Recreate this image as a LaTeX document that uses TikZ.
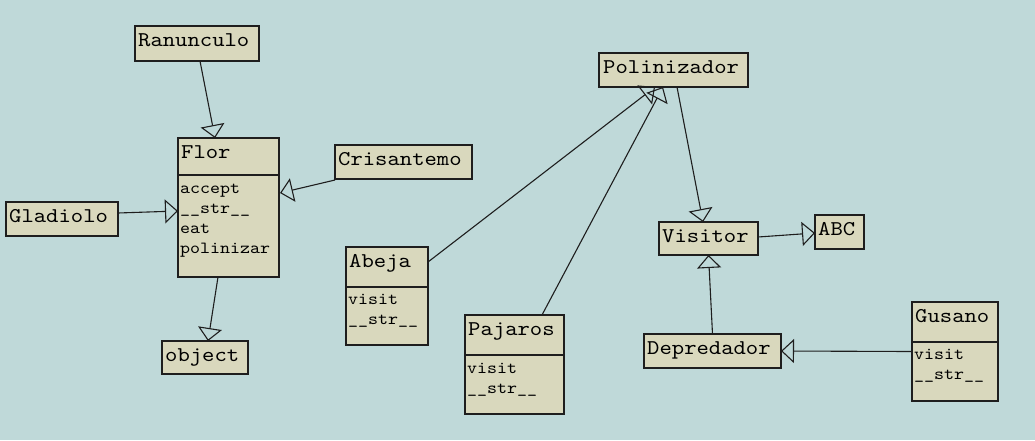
\documentclass[tikz,border=0pt]{standalone}
\usepackage{fontspec}
\usetikzlibrary{arrows.meta}
\newfontfamily\monof{lmmono10-regular.otf}[FakeStretch=1.12]
\newcommand\ttlf{\monof\fontsize{21}{24}\selectfont}
\newcommand\mthf{\monof\fontsize{17}{20}\selectfont}
\definecolor{bgc}{RGB}{191,217,217}
\definecolor{boxc}{RGB}{217,216,189}
\definecolor{linec}{RGB}{30,30,30}
\tikzset{
  umlbox/.style={draw=linec, fill=boxc, line width=1.2pt, anchor=north west, inner sep=0pt, outer sep=0pt},
  ttl/.style={font=\ttlf, anchor=base west, inner sep=0pt, text=black},
  mth/.style={font=\mthf, anchor=base west, inner sep=0pt, text=black},
  divl/.style={draw=linec, line width=1.2pt},
  gen/.style={draw=linec, line width=1.1pt, -{Triangle[open,length=13pt,width=24pt,line width=1.1pt]}}
}
\begin{document}
\begin{tikzpicture}[x=1pt,y=-1pt]
\fill[bgc] (0,0) rectangle (1035,440);
\useasboundingbox (0,0) rectangle (1035,440);

% Ranunculo
\node[umlbox, minimum width=124pt, minimum height=35pt] (ran) at (135,26) {};
\node[ttl] (ran-t) at (138,46.5) {Ranunculo};
% Flor
\node[umlbox, minimum width=101pt, minimum height=139pt] (flor) at (178,138) {};
\node[ttl] (flor-t) at (181,158) {Flor};
\draw[divl] (178,175) -- (279,175);
\node[mth] (flor-m1) at (180,193) {accept};
\node[mth] (flor-m2) at (180,213) {\_\_str\_\_};
\node[mth] (flor-m3) at (180,233) {eat};
\node[mth] (flor-m4) at (180,253) {polinizar};
% Crisantemo
\node[umlbox, minimum width=137pt, minimum height=34pt] (cris) at (335,145) {};
\node[ttl] (cris-t) at (338,165.5) {Crisantemo};
% Gladiolo
\node[umlbox, minimum width=112pt, minimum height=34pt] (glad) at (6,202) {};
\node[ttl] (glad-t) at (9,222.5) {Gladiolo};
% object
\node[umlbox, minimum width=86pt, minimum height=33pt] (obj) at (162,341) {};
\node[ttl] (obj-t) at (165,361) {object};
% Abeja
\node[umlbox, minimum width=82pt, minimum height=98pt] (abeja) at (346,247) {};
\node[ttl] (abeja-t) at (349,267) {Abeja};
\draw[divl] (346,287) -- (428,287);
\node[mth] (abeja-m1) at (348,304) {visit};
\node[mth] (abeja-m2) at (348,324) {\_\_str\_\_};
% Pajaros
\node[umlbox, minimum width=99pt, minimum height=99pt] (paj) at (465,315) {};
\node[ttl] (paj-t) at (468,335) {Pajaros};
\draw[divl] (465,355) -- (564,355);
\node[mth] (paj-m1) at (467,373) {visit};
\node[mth] (paj-m2) at (467,393) {\_\_str\_\_};
% Polinizador
\node[umlbox, minimum width=149pt, minimum height=34pt] (pol) at (599,53) {};
\node[ttl] (pol-t) at (603,73.5) {Polinizador};
% Visitor
\node[umlbox, minimum width=99pt, minimum height=33pt] (vis) at (659,222) {};
\node[ttl] (vis-t) at (662,242) {Visitor};
% ABC
\node[umlbox, minimum width=49pt, minimum height=34pt] (abc) at (815,215) {};
\node[ttl] (abc-t) at (818,235) {ABC};
% Depredador
\node[umlbox, minimum width=137pt, minimum height=34pt] (dep) at (644,334) {};
\node[ttl] (dep-t) at (647,354.5) {Depredador};
% Gusano
\node[umlbox, minimum width=86pt, minimum height=99pt] (gus) at (912,302) {};
\node[ttl] (gus-t) at (915,322) {Gusano};
\draw[divl] (912,342) -- (998,342);
\node[mth] (gus-m1) at (914,359) {visit};
\node[mth] (gus-m2) at (914,379) {\_\_str\_\_};

% connectors
\draw[gen] ([xshift=3pt]ran.south) -- ([xshift=-13.5pt]flor.north);
\draw[gen] ([yshift=6pt]glad.east) -- ([yshift=-3.5pt]flor.west);
\draw[gen] ([yshift=-1pt]cris.south west) -- ([xshift=1pt,yshift=14.5pt]flor.east);
\draw[gen] ([xshift=-10.5pt]flor.south) -- ([xshift=3pt]obj.north);
\draw[gen] ([yshift=-15pt]abeja.north east) -- ([xshift=-18.5pt]pol.south);
\draw[gen] ([xshift=27.5pt]paj.north) -- ([xshift=-10.5pt]pol.south);
\draw[gen] ([xshift=3.5pt]pol.south) -- ([xshift=-5.5pt]vis.north);
\draw[gen] ([yshift=1.5pt]vis.east) -- ([yshift=-1pt]abc.west);
\draw[gen] (dep.north) -- (vis.south);
\draw[gen] (gus.west) -- (dep.east);
\end{tikzpicture}
\end{document}
